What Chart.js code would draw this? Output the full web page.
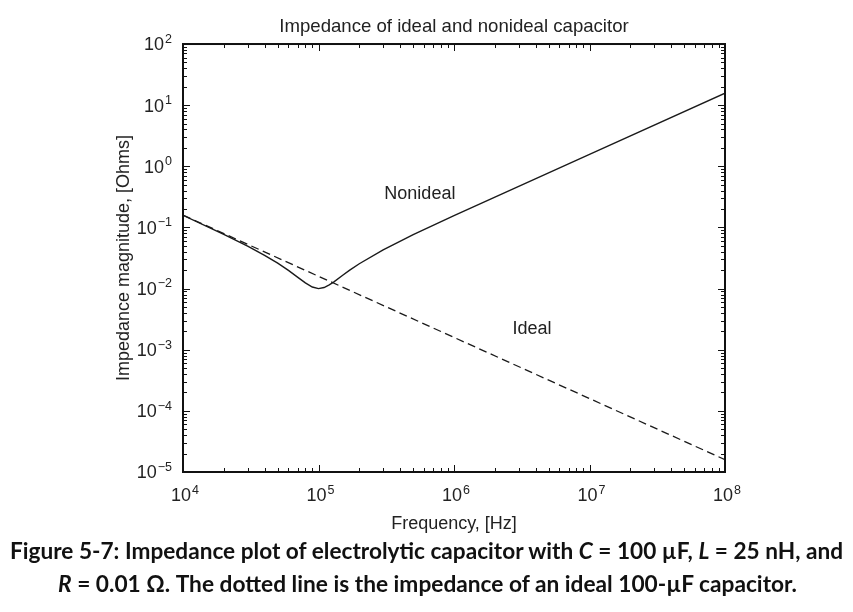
<!DOCTYPE html>
<html>
<head>
<meta charset="utf-8">
<script src="https://cdn.jsdelivr.net/npm/chart.js@4.4.0/dist/chart.umd.min.js"></script>
<style>
html,body{margin:0;padding:0;background:#fff;}
#wrap{position:relative;width:853px;height:612px;overflow:hidden;background:#fff;}
#c{position:absolute;left:0;top:0;}
.cap{position:absolute;left:0;white-space:nowrap;font-family:Lato,'Open Sans',sans-serif;font-weight:700;font-size:22px;line-height:26px;color:#111;transform-origin:0 0;}
</style>
</head>
<body>
<div id="wrap">
<canvas id="c" width="853" height="612"></canvas>
<div class="cap" id="cap1" style="top:538px">Figure 5-7: Impedance plot of electrolytic capacitor with <i>C</i> = 100 µF, <i>L</i> = 25 nH, and</div>
<div class="cap" id="cap2" style="top:571px"><i>R</i> = 0.01 Ω. The dotted line is the impedance of an ideal 100-µF capacitor.</div>
</div>
<script>
// ---- data ----
const freqHz = [1e4, 2e4, 3e4, 4e4, 5e4, 6e4, 7e4, 8e4, 9e4, 1e5, 1.1e5, 1.2e5, 1.3e5, 1.5e5, 1.7e5, 2e5, 3e5, 5e5, 1e6, 1e7, 1e8];
const nonidealOhms = [0.158, 0.0771, 0.0494, 0.0350, 0.0260, 0.0198, 0.0154, 0.0124, 0.0106, 0.0100, 0.0104, 0.0115, 0.0129, 0.0164, 0.0200, 0.0255, 0.0430, 0.0760, 0.156, 1.57, 15.7];
const idealFreqHz = [1e4, 1e5, 1e6, 1e7, 1e8];
const idealOhms = [0.159, 0.0159, 0.00159, 0.000159, 0.0000159];
const xTickValues = [1e4, 1e5, 1e6, 1e7, 1e8];
const yTickValues = [1e-5, 1e-4, 1e-3, 1e-2, 1e-1, 1e0, 1e1, 1e2];
const minorMultipliers = [2, 3, 4, 5, 6, 7, 8, 9];
const curveLabels = [
  {text: 'Nonideal', x: 5.6e5, y: 0.352},
  {text: 'Ideal', x: 3.77e6, y: 2.18e-3}
];

const FONT = "'Liberation Sans', Arial, Helvetica, sans-serif";
const INK = '#222';
function exponentOf(v){ return String(Math.round(Math.log10(v))).replace('-', '\u2212'); }

// draws "10" with a raised exponent; align: 'center' (x axis) or 'right' (y axis)
function drawPow(ctx, v, px, digitMidY, align){
  const base = '10', ex = exponentOf(v);
  ctx.font = '18px ' + FONT;
  const bw = ctx.measureText(base).width;
  ctx.font = '12.5px ' + FONT;
  const ew = ctx.measureText(ex).width;
  const total = bw + 1 + ew;
  const x0 = align === 'center' ? px - total / 2 + 2 : px - total;
  const baseY = digitMidY + 6.4;
  ctx.textAlign = 'left';
  ctx.textBaseline = 'alphabetic';
  ctx.font = '18px ' + FONT;
  ctx.fillText(base, x0, baseY);
  ctx.font = '12.5px ' + FONT;
  ctx.fillText(ex, x0 + bw + 1, baseY - 7.5);
}

const framePlugin = {
  id: 'frame',
  afterDatasetsDraw(chart){
    const {ctx, chartArea: a, scales: {x, y}} = chart;
    ctx.save();
    ctx.strokeStyle = '#111';
    ctx.lineWidth = 1;
    ctx.beginPath();
    xTickValues.forEach((d, i) => {
      const vals = [d];
      if (i < xTickValues.length - 1) minorMultipliers.forEach(m => vals.push(d * m));
      vals.forEach((v, k) => {
        const px = Math.round(x.getPixelForValue(v)) + 0.5;
        const len = k === 0 ? 7 : 4;
        ctx.moveTo(px, a.bottom); ctx.lineTo(px, a.bottom - len);
        ctx.moveTo(px, a.top); ctx.lineTo(px, a.top + len);
      });
    });
    yTickValues.forEach((d, i) => {
      const vals = [d];
      if (i < yTickValues.length - 1) minorMultipliers.forEach(m => vals.push(d * m));
      vals.forEach((v, k) => {
        const py = Math.round(y.getPixelForValue(v)) + 0.5;
        const len = k === 0 ? 7 : 4;
        ctx.moveTo(a.left, py); ctx.lineTo(a.left + len, py);
        ctx.moveTo(a.right, py); ctx.lineTo(a.right - len, py);
      });
    });
    ctx.stroke();
    ctx.lineWidth = 2;
    ctx.strokeRect(a.left, a.top, a.right - a.left, a.bottom - a.top);

    ctx.fillStyle = INK;
    xTickValues.forEach(v => drawPow(ctx, v, x.getPixelForValue(v), a.bottom + 23, 'center'));
    yTickValues.forEach(v => drawPow(ctx, v, a.left - 11, y.getPixelForValue(v), 'right'));

    ctx.font = '18px ' + FONT;
    ctx.textAlign = 'center';
    ctx.textBaseline = 'middle';
    curveLabels.forEach(l => ctx.fillText(l.text, x.getPixelForValue(l.x), y.getPixelForValue(l.y)));
    ctx.restore();
  }
};

new Chart(document.getElementById('c'), {
  type: 'line',
  data: {
    datasets: [
      {
        label: 'Nonideal',
        data: freqHz.map((f, i) => ({x: f, y: nonidealOhms[i]})),
        borderColor: '#1a1a1a', borderWidth: 1.4, pointRadius: 0, tension: 0, fill: false
      },
      {
        label: 'Ideal',
        data: idealFreqHz.map((f, i) => ({x: f, y: idealOhms[i]})),
        borderColor: '#1a1a1a', borderWidth: 1.3, borderDash: [8, 4.5], pointRadius: 0, tension: 0, fill: false
      }
    ]
  },
  options: {
    responsive: false,
    animation: false,
    layout: {padding: {left: 109, right: 128, top: 0, bottom: 70}},
    plugins: {
      legend: {display: false},
      tooltip: {enabled: false},
      title: {
        display: true, fullSize: false,
        text: 'Impedance of ideal and nonideal capacitor',
        color: INK, font: {family: FONT, size: 18.6, weight: 'normal'},
        padding: {top: 15.5, bottom: 6.2}
      }
    },
    scales: {
      x: {
        type: 'logarithmic', position: 'bottom', min: 1e4, max: 1e8,
        afterBuildTicks: s => { s.ticks = xTickValues.map(v => ({value: v})); },
        afterFit: s => { s.height = 70; },
        grid: {display: false, drawTicks: false}, border: {display: false},
        ticks: {display: false},
        title: {display: true, text: 'Frequency, [Hz]', color: INK, font: {family: FONT, size: 18}, padding: {top: 0, bottom: 7}}
      },
      y: {
        type: 'logarithmic', position: 'left', min: 1e-5, max: 1e2,
        afterBuildTicks: s => { s.ticks = yTickValues.map(v => ({value: v})); },
        afterFit: s => { s.width = 74; },
        grid: {display: false, drawTicks: false}, border: {display: false},
        ticks: {display: false},
        title: {display: true, text: 'Impedance magnitude, [Ohms]', color: INK, font: {family: FONT, size: 18}, padding: {top: 4, bottom: 0}}
      }
    }
  },
  plugins: [framePlugin]
});

function fitCaption(){
  const fit = (id, x0, w) => {
    const el = document.getElementById(id);
    el.style.transform = 'none';
    const cw = el.getBoundingClientRect().width;
    el.style.transform = 'translateX(' + x0 + 'px) scaleX(' + (w / cw) + ')';
  };
  fit('cap1', 10, 833);
  fit('cap2', 58, 739);
}
fitCaption();
if (document.fonts && document.fonts.ready) document.fonts.ready.then(fitCaption);
</script>
</body>
</html>
